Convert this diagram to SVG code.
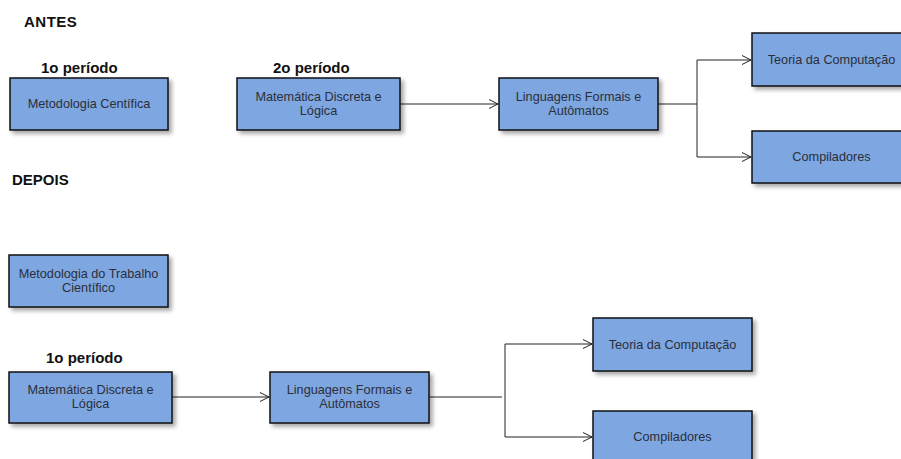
<svg xmlns="http://www.w3.org/2000/svg" width="901" height="459" viewBox="0 0 901 459">
<style>
.box{fill:#7EA6E0;stroke:#111;stroke-width:1.5;filter:url(#sh)}
.t{font-family:"Liberation Sans",Arial,sans-serif;font-size:12.7px;fill:#2a2f3a;text-anchor:middle}
.h{font-family:"Liberation Sans",Arial,sans-serif;font-size:15px;font-weight:bold;fill:#111}
.p{font-family:"Liberation Sans",Arial,sans-serif;font-size:15px;font-weight:bold;fill:#111}
.c{fill:none;stroke:#222;stroke-width:1}
</style>
<defs>
<filter id="sh" x="-10%" y="-10%" width="130%" height="140%">
<feDropShadow dx="3" dy="3" stdDeviation="2" flood-color="#000" flood-opacity="0.35"/>
</filter>
<marker id="arr" markerWidth="12" markerHeight="12" refX="9" refY="5" orient="auto" markerUnits="userSpaceOnUse">
<path d="M0,0.5 L9,5 L0,9.5" fill="none" stroke="#222" stroke-width="1"/>
</marker>
</defs>
<rect width="901" height="459" fill="#fff"/>
<text class="h" x="24" y="27" letter-spacing="0.5">ANTES</text>
<text class="p" x="41" y="73">1o período</text>
<text class="p" x="273" y="73">2o período</text>
<text class="h" x="12" y="185">DEPOIS</text>
<text class="p" x="46" y="363">1o período</text>
<g id="connectors">
<path class="c" d="M400,104 H498" marker-end="url(#arr)"/>
<path class="c" d="M658,104 H697"/>
<path class="c" d="M697,60 V157"/>
<path class="c" d="M697,60 H751" marker-end="url(#arr)"/>
<path class="c" d="M697,157 H751" marker-end="url(#arr)"/>
<path class="c" d="M172,397 H269" marker-end="url(#arr)"/>
<path class="c" d="M429,397 H502"/>
<path class="c" d="M505,344 V437"/>
<path class="c" d="M505,344 H592" marker-end="url(#arr)"/>
<path class="c" d="M505,437 H592" marker-end="url(#arr)"/>
</g>
<g id="n-metodologia-antes"><rect class="box" x="10" y="78" width="158" height="52"/><text class="t" x="89" y="108">Metodologia Centífica</text></g>
<g id="n-matematica-antes"><rect class="box" x="237" y="78" width="163" height="52"/><text class="t" x="318.5" y="101">Matemática Discreta e</text><text class="t" x="318.5" y="115">Lógica</text></g>
<g id="n-linguagens-antes"><rect class="box" x="499" y="78" width="159" height="52"/><text class="t" x="578.5" y="101">Linguagens Formais e</text><text class="t" x="578.5" y="115">Autômatos</text></g>
<g id="n-teoria-antes"><rect class="box" x="752" y="33" width="159" height="53"/><text class="t" x="831.5" y="64">Teoria da Computação</text></g>
<g id="n-compiladores-antes"><rect class="box" x="752" y="131" width="159" height="52"/><text class="t" x="831.5" y="161">Compiladores</text></g>
<g id="n-metodologia-depois"><rect class="box" x="9" y="255" width="159" height="52"/><text class="t" x="88.5" y="278">Metodologia do Trabalho</text><text class="t" x="88.5" y="292">Científico</text></g>
<g id="n-matematica-depois"><rect class="box" x="9" y="372" width="163" height="51"/><text class="t" x="90.5" y="394">Matemática Discreta e</text><text class="t" x="90.5" y="408">Lógica</text></g>
<g id="n-linguagens-depois"><rect class="box" x="270" y="372" width="159" height="51"/><text class="t" x="349.5" y="394">Linguagens Formais e</text><text class="t" x="349.5" y="408">Autômatos</text></g>
<g id="n-teoria-depois"><rect class="box" x="593" y="318" width="159" height="53"/><text class="t" x="672.5" y="348.5">Teoria da Computação</text></g>
<g id="n-compiladores-depois"><rect class="box" x="593" y="411" width="159" height="60"/><text class="t" x="672.5" y="441">Compiladores</text></g>
</svg>
